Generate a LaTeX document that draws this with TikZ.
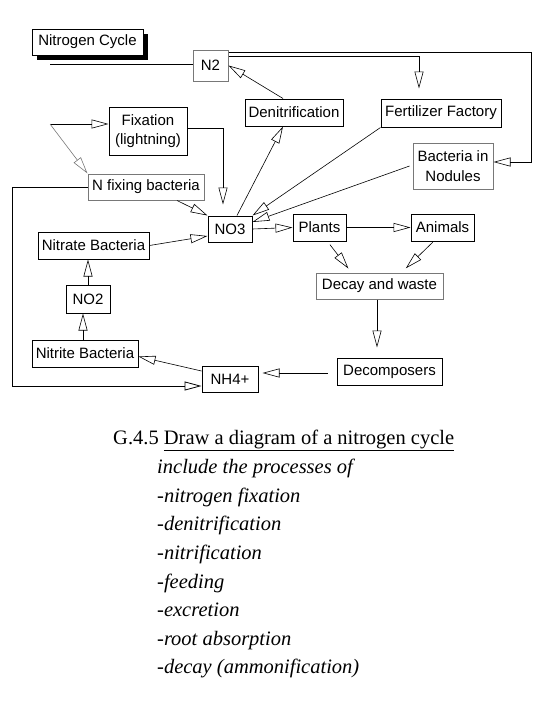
\documentclass[tikz,border=0pt]{standalone}
\usepackage{fontspec}
\setmainfont{Liberation Serif}
\newfontfamily\diagfont{Liberation Sans}
\usepackage{tikz}
\usetikzlibrary{arrows.meta, positioning, calc, shadows}
\definecolor{mydark}{RGB}{0,0,0}
\definecolor{mygrey}{RGB}{120,120,120}
\tikzset{
  cbox/.style={rectangle, draw=mydark, fill=white, align=center,
    font=\diagfont\fontsize{15}{19.5}\selectfont, inner sep=1.5pt, line width=1pt},
  greybox/.style={cbox, draw=mygrey},
  titlebox/.style={cbox, minimum width=111pt, minimum height=26pt,
    drop shadow={shadow xshift=5pt, shadow yshift=-5pt, fill=black, opacity=1}},
  openarrow/.style={-{Triangle[open, length=17pt, width=9pt]}, line width=0.6pt, color=mydark},
  greyarrow/.style={openarrow, color=mygrey},
  line/.style={line width=0.8pt, color=mydark},
  captext/.style={anchor=base west, inner sep=0pt, font=\fontsize{20.5}{24}\selectfont},
  capitem/.style={captext, font=\fontsize{20.5}{24}\selectfont\itshape}
}

\begin{document}
\begin{tikzpicture}[x=1pt, y=-1pt, >=Stealth]
  \useasboundingbox (0,0) rectangle (540,720);

  % Title
  \node[titlebox] (title) at (87.5,42) {Nitrogen Cycle};

  % Boxes
  \node[greybox, minimum width=35pt, minimum height=31pt] (n2) at (210.5,65.5) {N2};
  \node[cbox, minimum width=98pt, minimum height=27pt] (denit) at (294,112.5) {Denitrification};
  \node[cbox, minimum width=120pt, minimum height=28pt] (fert) at (441,113) {Fertilizer Factory};
  \node[greybox, minimum width=80pt, minimum height=46pt] (nodules) at (453,166) {Bacteria in\\Nodules};
  \node[cbox, minimum width=78pt, minimum height=48pt] (fix) at (148,131) {Fixation\\(lightning)};
  \node[greybox, minimum width=116pt, minimum height=26pt] (nfix) at (146,187) {N fixing bacteria};
  \node[cbox, minimum width=44pt, minimum height=26pt] (no3) at (230,229) {NO3};
  \node[cbox, minimum width=111pt, minimum height=27pt] (nitrate) at (93.5,245.5) {Nitrate Bacteria};
  \node[cbox, minimum width=44pt, minimum height=28pt] (no2) at (88,299) {NO2};
  \node[cbox, minimum width=106pt, minimum height=27pt] (nitrite) at (85,353.5) {Nitrite Bacteria};
  \node[cbox, minimum width=56pt, minimum height=26pt] (nh4) at (230,379) {NH4+};
  \node[cbox, minimum width=53pt, minimum height=27pt] (plants) at (319.5,227.5) {Plants};
  \node[cbox, minimum width=63pt, minimum height=27pt] (animals) at (442.5,227.5) {Animals};
  \node[greybox, minimum width=127pt, minimum height=26pt] (decay) at (379.5,286) {Decay and waste};
  \node[cbox, minimum width=105pt, minimum height=27pt] (decomp) at (389.5,371.5) {Decomposers};

  % Free ends and corners
  \coordinate (nstart) at (50,64);
  \coordinate (lstart) at (50,124);
  \coordinate (rcorner) at (531,52);
  \coordinate (fcorner) at (419,56);
  \coordinate (lcorner) at (12,386);

  % N2 links
  \draw[line] (nstart) -- (nstart -| n2.west);
  \draw[openarrow] ([yshift=13.5pt]n2.east) -- (rcorner) |- ([yshift=4pt]nodules.east);
  \draw[openarrow, shorten >=10pt] ([yshift=9.5pt]n2.east) -- (fcorner) -- (fcorner |- fert.north);
  \draw[openarrow] ([xshift=-11pt]denit.north) -- (n2.east);

  % Fixation
  \draw[openarrow] (lstart) -- (lstart -| fix.west);
  \draw[greyarrow] (lstart) -- (nfix.north west);
  \draw[openarrow, shorten >=11pt] ([yshift=3pt]fix.east) -| ([xshift=-7pt]no3.north);
  \draw[openarrow, line width=0.8pt] (nfix.west) -| (lcorner) -- ([yshift=-7pt]nh4.west);
  \draw[openarrow] ([xshift=31pt]nfix.south) -- (no3.north west);

  % Nitrification
  \draw[openarrow] (nitrate.east) -- ([yshift=-7pt]no3.west);
  \draw[openarrow] (no2.north) -- (no2.north |- nitrate.south);
  \draw[openarrow] ([xshift=-5pt]no2.south |- nitrite.north) -- ([xshift=-5pt]no2.south);
  \draw[openarrow] ([yshift=8pt]nh4.west) -- ([yshift=-3pt]nitrite.east);

  % NO3 links
  \draw[openarrow] ([xshift=7pt]no3.north) -- ([xshift=-11pt]denit.south);
  \draw[openarrow] (fert.south west) -- (no3.north east);
  \draw[openarrow] ([xshift=-3pt]nodules.west) -- ([yshift=7pt]no3.east);
  \draw[openarrow] (no3.east) -- (plants.west);

  % Feeding and decay
  \draw[openarrow] (plants.east) -- (animals.west);
  \draw[openarrow, shorten <=4pt, shorten >=5pt] ([xshift=8pt]plants.south) -- ([xshift=-28pt]decay.north);
  \draw[openarrow, shorten <=1pt, shorten >=6pt] ([xshift=-9pt]animals.south) -- ([xshift=22pt]decay.north);
  \draw[openarrow, shorten >=10pt] ([xshift=-2.5pt]decay.south) -- ([xshift=-2.5pt]decay.south |- decomp.north);
  \draw[openarrow, shorten <=9pt, shorten >=4pt] ([yshift=-1.5pt]decomp.west) -- ([yshift=-1.5pt]decomp.west -| nh4.east);

  % Caption
  \node[captext] (cap0) at (113,444) {G.4.5 \underline{Draw a diagram of a nitrogen cycle}};
  \node[capitem] (cap1) at (157,473) {include the processes of};
  \node[capitem] (cap2) at (157,502) {-nitrogen fixation};
  \node[capitem] (cap3) at (157,530) {-denitrification};
  \node[capitem] (cap4) at (157,559) {-nitrification};
  \node[capitem] (cap5) at (157,588) {-feeding};
  \node[capitem] (cap6) at (157,616) {-excretion};
  \node[capitem] (cap7) at (157,645) {-root absorption};
  \node[capitem] (cap8) at (157,673) {-decay (ammonification)};
\end{tikzpicture}
\end{document}
